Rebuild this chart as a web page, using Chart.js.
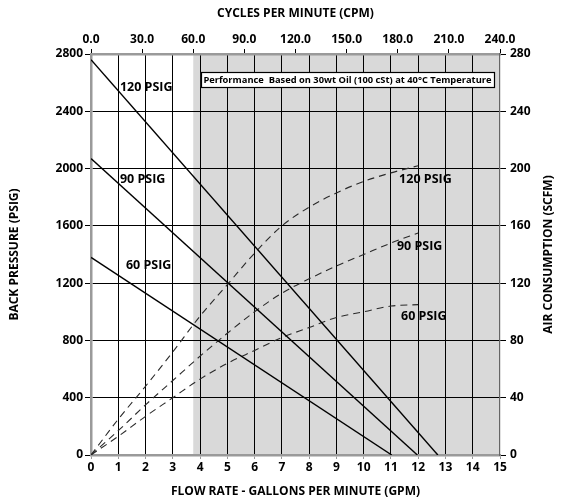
<!DOCTYPE html>
<html>
<head>
<meta charset="utf-8">
<script src="https://cdn.jsdelivr.net/npm/chart.js@4.4.0/dist/chart.umd.min.js"></script>
<style>
    html, body { margin: 0; padding: 0; background: #fff; }
    #wrap { width: 567px; height: 501px; }
</style>
</head>
<body>
<div id="wrap"><canvas id="pumpChart"></canvas></div>
<script>
// Flow rate (GPM) where the air consumption curves were read
const flowGpm = [0, 1, 2, 3, 4, 5, 6, 7, 8, 9, 10, 11, 12];

// Air consumption (SCFM) for each inlet pressure
const air120 = [0, 25, 48, 72, 97, 119, 141, 160, 173, 183, 191, 197, 202];
const air90 = [0, 17, 35, 52, 69, 85, 100, 113, 123, 132, 140, 148, 155];
const air60 = [0, 13, 27, 40, 53, 64, 73, 82, 89, 96, 100, 104, 105];

// Back pressure lines: pressure at zero flow (PSIG) and flow at zero pressure (GPM)
const inletLabels = ['120 PSIG', '90 PSIG', '60 PSIG'];
const stallPressure = [2760, 2070, 1380];
const freeFlow = [12.72, 11.97, 11.03];

// Axis ranges
const gpmRange = [0, 15, 1];
const cpmRange = [0, 240, 30];
const psigRange = [0, 2800, 400];
const scfmRange = [0, 280, 40];

// Shaded zone starts at this cycle rate
const shadeFromCpm = 60;

const noteText = 'Performance  Based on 30wt Oil (100 cSt) at 40°C Temperature';
const rightTitle = 'AIR CONSUMPTION (SCFM)';

const FONT = '"Open Sans", "DejaVu Sans", sans-serif';
const tickFont = { family: FONT, size: 12, weight: 'bold' };
const titleFont = { family: FONT, size: 12, weight: 'bold' };

// Back pressure line from stall pressure down to free flow
function pressureLine(i) {
    return [{ x: 0, y: stallPressure[i] }, { x: freeFlow[i], y: 0 }];
}

function airCurve(values) {
    return flowGpm.map((q, i) => ({ x: q, y: values[i] }));
}

// Grey area behind the grid
const shadePlugin = {
    id: 'shade',
    beforeDraw(chart) {
        const { ctx, chartArea } = chart;
        const xStart = chart.scales.x2.getPixelForValue(shadeFromCpm);
        ctx.save();
        ctx.fillStyle = '#d9d9d9';
        ctx.fillRect(xStart, chartArea.top, chartArea.right - xStart, chartArea.bottom - chartArea.top);
        ctx.restore();
    }
};

// Curve labels, the note box and the right axis title
const notesPlugin = {
    id: 'notes',
    afterDatasetsDraw(chart) {
        const { ctx, chartArea } = chart;
        const { x, y, y2 } = chart.scales;
        ctx.save();
        ctx.fillStyle = '#000';
        ctx.font = 'bold 12.5px ' + FONT;
        ctx.textBaseline = 'middle';
        ctx.textAlign = 'left';

        // labels on the pressure lines (left side)
        const leftX = [1.06, 1.06, 1.28];
        const leftY = [2570, 1927, 1327];
        inletLabels.forEach((t, i) => {
            ctx.fillText(t, x.getPixelForValue(leftX[i]), y.getPixelForValue(leftY[i]));
        });

        // labels on the air curves (right side)
        const rightX = [11.3, 11.22, 11.37];
        const rightY = [192.7, 145.3, 96.5];
        inletLabels.forEach((t, i) => {
            ctx.fillText(t, x.getPixelForValue(rightX[i]), y2.getPixelForValue(rightY[i]));
        });

        // note box
        const bx0 = x.getPixelForValue(4.03);
        const bx1 = x.getPixelForValue(14.78);
        const by0 = y.getPixelForValue(2672);
        const by1 = y.getPixelForValue(2568);
        ctx.fillStyle = '#fff';
        ctx.fillRect(bx0, by0, bx1 - bx0, by1 - by0);
        ctx.strokeStyle = '#000';
        ctx.lineWidth = 1.2;
        ctx.strokeRect(Math.round(bx0) + 0.5, Math.round(by0) + 0.5, Math.round(bx1 - bx0), Math.round(by1 - by0));
        ctx.fillStyle = '#000';
        ctx.font = 'bold 9.5px ' + FONT;
        ctx.textAlign = 'center';
        ctx.fillText(noteText, (bx0 + bx1) / 2, (by0 + by1) / 2 + 0.5, bx1 - bx0 - 5);

        // right axis title, reading bottom to top
        ctx.translate(549, (chartArea.top + chartArea.bottom) / 2);
        ctx.rotate(-Math.PI / 2);
        ctx.font = 'bold 12px ' + FONT;
        ctx.fillText(rightTitle, 0, 0);
        ctx.restore();
    }
};

function edgeless(lo, hi) {
    return ctx => (ctx.tick && (ctx.tick.value === lo || ctx.tick.value === hi)) ? 'rgba(0,0,0,0)' : '#000';
}

const solidStyle = {
    borderColor: '#000',
    borderWidth: 1.4,
    pointRadius: 0,
    tension: 0,
    yAxisID: 'y'
};

const dashedStyle = {
    borderColor: '#2a2a2a',
    borderWidth: 1.1,
    borderDash: [7, 5],
    pointRadius: 0,
    cubicInterpolationMode: 'monotone',
    yAxisID: 'y2'
};

new Chart(document.getElementById('pumpChart').getContext('2d'), {
    type: 'line',
    data: {
        datasets: [
            { ...solidStyle, label: 'BP ' + inletLabels[0], data: pressureLine(0) },
            { ...solidStyle, label: 'BP ' + inletLabels[1], data: pressureLine(1) },
            { ...solidStyle, label: 'BP ' + inletLabels[2], data: pressureLine(2) },
            { ...dashedStyle, label: 'Air ' + inletLabels[0], data: airCurve(air120) },
            { ...dashedStyle, label: 'Air ' + inletLabels[1], data: airCurve(air90) },
            { ...dashedStyle, label: 'Air ' + inletLabels[2], data: airCurve(air60) }
        ]
    },
    options: {
        responsive: true,
        maintainAspectRatio: false,
        animation: false,
        devicePixelRatio: 1,
        layout: { padding: 0 },
        plugins: {
            legend: { display: false },
            tooltip: { enabled: false }
        },
        scales: {
            x: {
                type: 'linear',
                position: 'bottom',
                min: gpmRange[0],
                max: gpmRange[1],
                ticks: { stepSize: gpmRange[2], font: tickFont, color: '#000', padding: 1, autoSkip: false, maxRotation: 0 },
                grid: { color: edgeless(gpmRange[0], gpmRange[1]), tickColor: '#999', tickLength: 4, lineWidth: 1 },
                border: { color: '#9a9a9a', width: 2.5 },
                title: { display: true, text: 'FLOW RATE - GALLONS PER MINUTE (GPM)', font: titleFont, color: '#000', padding: { top: 0, bottom: 2 } },
                afterFit: s => { s.height = 46; }
            },
            x2: {
                type: 'linear',
                position: 'top',
                min: cpmRange[0],
                max: cpmRange[1],
                ticks: { stepSize: cpmRange[2], font: tickFont, color: '#000', padding: 2, autoSkip: false, maxRotation: 0, callback: v => v.toFixed(1) },
                grid: { drawOnChartArea: false, tickColor: '#000', tickLength: 5 },
                border: { color: '#9a9a9a', width: 2.5 },
                title: { display: true, text: 'CYCLES PER MINUTE (CPM)', font: titleFont, color: '#000', padding: { top: 6, bottom: 0 } },
                afterFit: s => { s.height = 54; }
            },
            y: {
                type: 'linear',
                position: 'left',
                min: psigRange[0],
                max: psigRange[1],
                ticks: { stepSize: psigRange[2], font: tickFont, color: '#000', padding: 2, callback: v => String(v) },
                grid: { color: edgeless(psigRange[0], psigRange[1]), tickColor: '#000', tickLength: 6, lineWidth: 1 },
                border: { color: '#9a9a9a', width: 2.5 },
                title: { display: true, text: 'BACK PRESSURE (PSIG)', font: titleFont, color: '#000', padding: { top: 7, bottom: 0 } },
                afterFit: s => { s.width = 91; }
            },
            y2: {
                type: 'linear',
                position: 'right',
                min: scfmRange[0],
                max: scfmRange[1],
                ticks: { stepSize: scfmRange[2], font: tickFont, color: '#000', padding: 4, callback: v => String(v) },
                grid: { drawOnChartArea: false, tickColor: '#000', tickLength: 6 },
                border: { color: '#666', width: 1.2 },
                title: { display: false },
                afterFit: s => { s.width = 67; }
            }
        }
    },
    plugins: [shadePlugin, notesPlugin]
});
</script>
</body>
</html>
